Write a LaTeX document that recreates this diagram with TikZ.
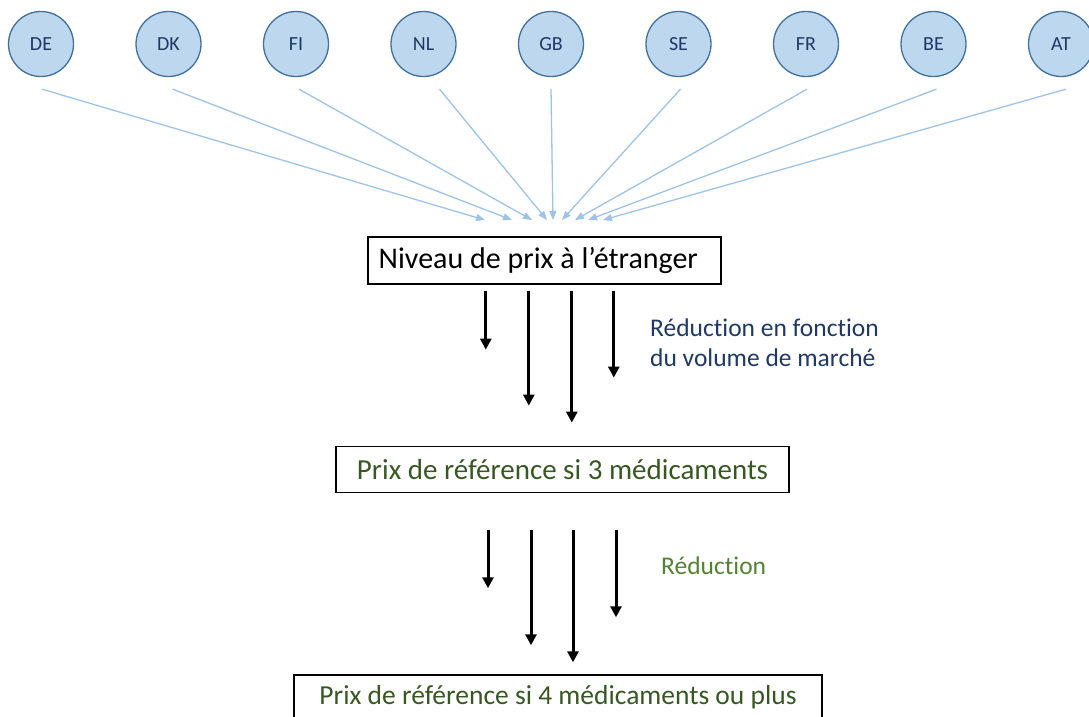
\documentclass[tikz,border=0pt]{standalone}
\usepackage{fontspec}
\setmainfont{Carlito}[Ligatures=NoCommon]
\usetikzlibrary{arrows.meta}
\definecolor{cfill}{HTML}{BDD7EE}
\definecolor{cdraw}{HTML}{41719C}
\definecolor{ctext}{HTML}{203864}
\definecolor{cline}{HTML}{9DC3E6}
\definecolor{gdark}{HTML}{385723}
\definecolor{glight}{HTML}{548235}
\begin{document}
\begin{tikzpicture}[x=1pt,y=-1pt,
  country/.style={circle,draw=cdraw,fill=cfill,line width=1.3pt,minimum size=65pt,inner sep=0pt,font=\fontsize{20}{23}\selectfont,text=ctext},
  feed/.style={draw=cline,line width=1.3pt,-{Triangle[width=7pt,length=9pt]}},
  box/.style={draw=black,line width=1.6pt,inner ysep=0pt,font=\fontsize{29}{34}\selectfont},
  down/.style={line width=3pt,-{Triangle[width=11pt,length=11pt]}},
  note/.style={inner sep=0pt,anchor=west,align=left}
]
\useasboundingbox (0,0) rectangle (1089,717);
% country circles
\foreach \c [count=\i from 0] in {DE,DK,FI,NL,GB,SE,FR,BE,AT}
  \node[country] (\c) at (41+127.5*\i,44) {\c};
% boxes
\node[box,font=\fontsize{30}{35}\selectfont,minimum width=353pt,minimum height=47pt,anchor=north west] (b1) at (367,236) {Niveau de prix à l’étranger\hspace*{12pt}};
\node[box,text=gdark,minimum width=453pt,minimum height=46pt] (b2) at (562.5,469.5) {Prix de référence si 3 médicaments};
\node[box,text=gdark,font=\fontsize{27.5}{32}\selectfont,minimum width=528pt,minimum height=45pt,anchor=north] (b3) at (558,674) {Prix de référence si 4 médicaments ou plus};
% feeds
\foreach \c/\sx/\ex in {DE/1/485,DK/4/512,FI/3/532,NL/16/547,GB/0/553,SE/2/562,FR/1/575,BE/3/588,AT/5/603}{
  \coordinate (e\c) at (\ex,220);
  \draw[feed] ([xshift=\sx pt,yshift=-12pt]\c.south) -- (e\c);
}
% reduction arrows 1
\foreach \dx/\len in {-58.5/59,-15.5/115,27.5/132,69.5/87}
  \draw[down] ([xshift=\dx pt,yshift=-6pt]b1.south) -- ++(0,\len);
% reduction arrows 2
\foreach \dx/\len in {-74.5/58,-31.5/115,10.5/132,53.5/87}
  \draw[down] ([xshift=\dx pt,yshift=-37pt]b2.south) -- ++(0,\len);
% notes
\node[note,text=ctext,font=\fontsize{25.5}{30}\selectfont] (n1) at (650,343) {Réduction en fonction\\du volume de marché};
\node[note,text=glight,font=\fontsize{25.5}{30}\selectfont] (n2) at (661,566) {Réduction};
\end{tikzpicture}
\end{document}
